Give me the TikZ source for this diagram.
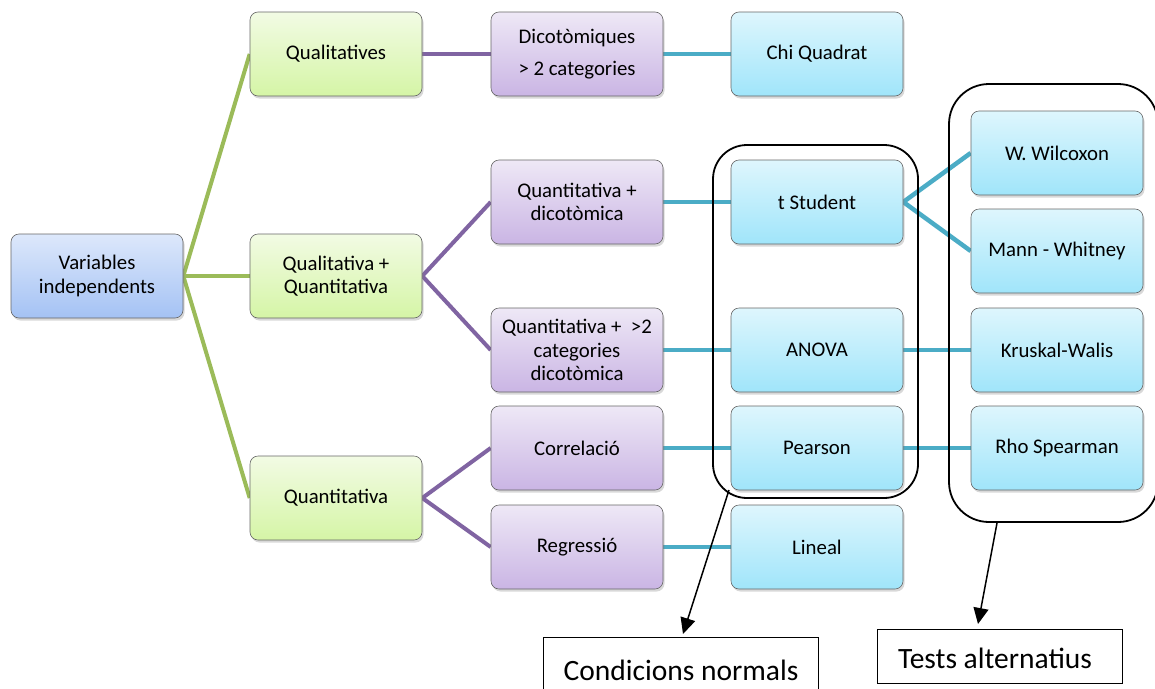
\documentclass[tikz,border=0pt]{standalone}
\usepackage{fontspec}
\setmainfont{Carlito}
\usetikzlibrary{shadows,backgrounds,arrows.meta,calc}
\definecolor{gline}{HTML}{9BBB59}
\definecolor{pline}{HTML}{8064A2}
\definecolor{cline}{HTML}{4BACC6}
\begin{document}
\begin{tikzpicture}[x=1pt,y=-1pt,
  box/.style={draw=black!60, line width=0.6pt, rounded corners=8pt,
    minimum width=172pt, minimum height=84pt, text width=168pt,
    align=flush center, inner sep=0pt,
    font=\fontsize{20.8}{23.5}\selectfont,
    drop shadow={shadow xshift=1.5pt, shadow yshift=-2.5pt, opacity=0.3}},
  bluebox/.style={box, top color={rgb,255:red,221;green,232;blue,251}, bottom color={rgb,255:red,164;green,194;blue,244}},
  greenbox/.style={box, top color={rgb,255:red,242;green,251;blue,228}, bottom color={rgb,255:red,213;green,245;blue,166}},
  purplebox/.style={box, top color={rgb,255:red,238;green,232;blue,246}, bottom color={rgb,255:red,202;green,181;blue,228}},
  cyanbox/.style={box, top color={rgb,255:red,222;green,246;blue,253}, bottom color={rgb,255:red,160;green,229;blue,250}},
  gconn/.style={draw=gline, line width=4pt},
  pconn/.style={draw=pline, line width=4pt},
  cconn/.style={draw=cline, line width=4.5pt},
  group/.style={draw=black, line width=1.8pt, rounded corners=34pt},
  labelbox/.style={draw=black, line width=1.2pt, fill=white, inner sep=0pt},
  labeltext/.style={font=\fontsize{29.5}{33}\selectfont},
  pointer/.style={draw=black, line width=1.5pt, -{Triangle[length=16pt,width=15pt]}}
]
\useasboundingbox (0,0) rectangle (1155,688);

% column 1-2
\node[bluebox] (vi) at (97,276) {Variables\\independents};
\node[greenbox] (ql) at (336,54) {Qualitatives};
\node[greenbox] (qq) at (336,276) {Qualitativa +\\Quantitativa};
\node[greenbox] (qn) at (336,498) {Quantitativa};
% column 3
\node[purplebox, font=\fontsize{20.8}{32}\selectfont] (dic) at (577,54) {Dicotòmiques\\> 2 categories};
\node[purplebox] (qd) at (577,202) {Quantitativa +\\dicotòmica};
\node[purplebox] (qc) at (577,350) {Quantitativa +~~>2\\categories\\dicotòmica};
\node[purplebox] (cor) at (577,448) {Correlació};
\node[purplebox] (reg) at (577,547) {Regressió};
% column 4
\node[cyanbox] (chi) at (817,54) {Chi Quadrat};
\node[cyanbox] (ts) at (817,202) {t Student};
\node[cyanbox] (an) at (817,350) {ANOVA};
\node[cyanbox] (pe) at (817,448) {Pearson};
\node[cyanbox] (li) at (817,547) {Lineal};
% column 5
\node[cyanbox] (wi) at (1057,153) {W. Wilcoxon};
\node[cyanbox] (mw) at (1057,251) {Mann - Whitney};
\node[cyanbox] (kw) at (1057,350) {Kruskal-Walis};
\node[cyanbox] (rs) at (1057,448) {Rho Spearman};

\begin{scope}[on background layer]
  \fill[white] (0,0) rectangle (1155,688);
  \draw[gconn] (vi.east) -- (ql.west);
  \draw[gconn] (vi.east) -- (qq.west);
  \draw[gconn] (vi.east) -- (qn.west);
  \draw[pconn] (ql.east) -- (dic.west);
  \draw[pconn] (qq.east) -- (qd.west);
  \draw[pconn] (qq.east) -- (qc.west);
  \draw[pconn] (qn.east) -- (cor.west);
  \draw[pconn] (qn.east) -- (reg.west);
  \draw[cconn] (dic.east) -- (chi.west);
  \draw[cconn] (qd.east) -- (ts.west);
  \draw[cconn] (qc.east) -- (an.west);
  \draw[cconn] (cor.east) -- (pe.west);
  \draw[cconn] (reg.east) -- (li.west);
  \draw[cconn] (ts.east) -- (wi.west);
  \draw[cconn] (ts.east) -- (mw.west);
  \draw[cconn] (an.east) -- (kw.west);
  \draw[cconn] (pe.east) -- (rs.west);
\end{scope}

% group outlines
\draw[group] (713,145) rectangle (918,498);
\draw[group, rounded corners=40pt] (949,84) rectangle (1158,522);

% labels
\node[labelbox, minimum width=275pt, minimum height=56pt, anchor=north west] (cn) at (543,637) {};
\node[labeltext] (cnt) at (681,670) {Condicions normals};
\node[labelbox, minimum width=245pt, minimum height=54pt, anchor=north west] (ta) at (877,629) {};
\node[labeltext] (tat) at (995,658) {Tests alternatius};

\coordinate (s1) at (729,490);
\coordinate (e1) at (683,634);
\coordinate (s2) at (997,523);
\coordinate (e2) at (978,624);
\draw[pointer] (s1) -- (e1);
\draw[pointer] (s2) -- (e2);
\end{tikzpicture}
\end{document}
